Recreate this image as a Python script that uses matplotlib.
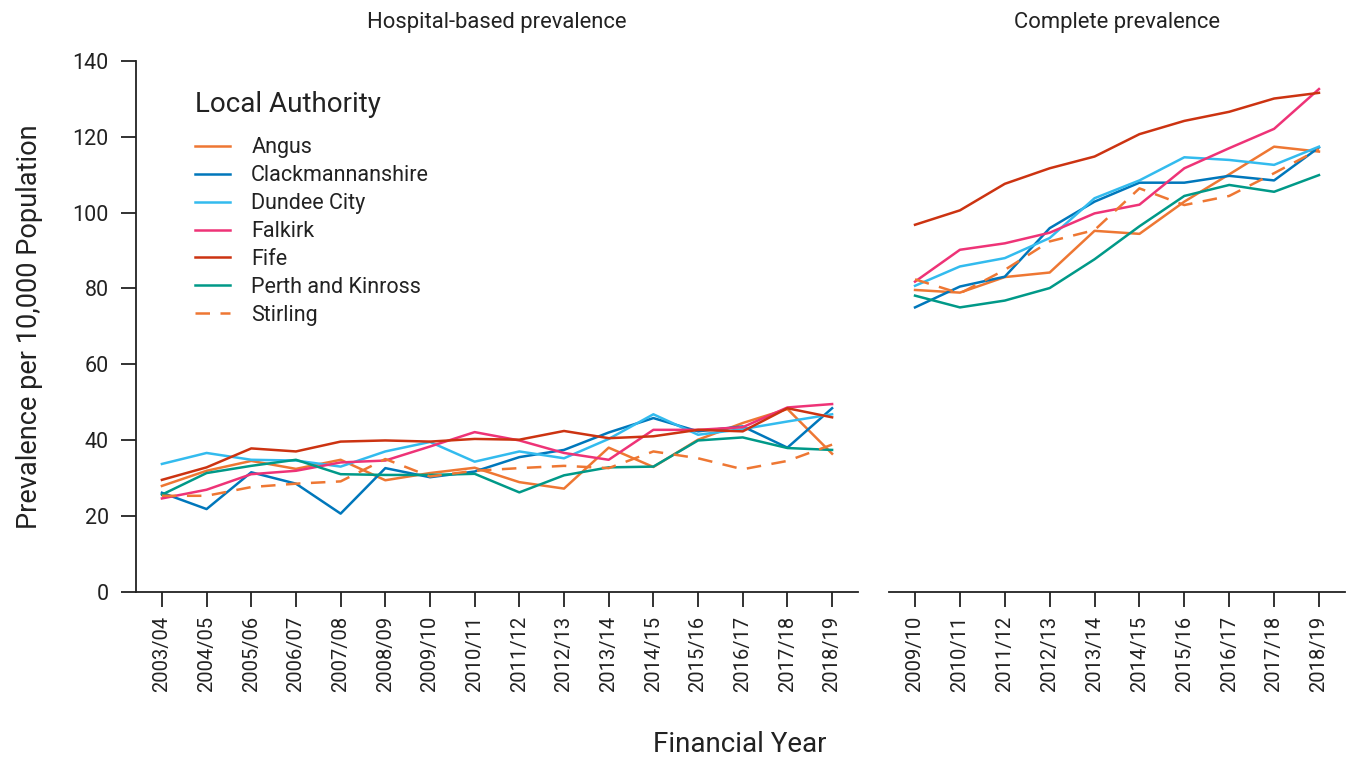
import numpy as np
import matplotlib
matplotlib.use("Agg")
import matplotlib.pyplot as plt

plt.rcParams['font.family'] = ['Roboto', 'DejaVu Sans']

# financial years for the two panels
years_hosp = ["2003/04", "2004/05", "2005/06", "2006/07", "2007/08", "2008/09",
              "2009/10", "2010/11", "2011/12", "2012/13", "2013/14", "2014/15",
              "2015/16", "2016/17", "2017/18", "2018/19"]
years_comp = ["2009/10", "2010/11", "2011/12", "2012/13", "2013/14", "2014/15",
              "2015/16", "2016/17", "2017/18", "2018/19"]

# hospital-based prevalence per 10,000
angus_h = [27.9, 31.9, 34.5, 32.4, 34.8, 29.4, 31.3, 32.7, 28.9, 27.2, 38.0, 32.9, 40.1, 44.5, 48.2, 36.4]
clack_h = [26.1, 21.8, 31.5, 28.5, 20.6, 32.6, 30.2, 31.7, 35.5, 37.4, 42.0, 45.8, 42.3, 43.6, 38.0, 48.4]
dundee_h = [33.7, 36.6, 34.8, 34.6, 33.0, 37.0, 39.5, 34.3, 37.0, 35.2, 40.3, 46.8, 41.4, 42.9, 44.9, 46.8]
falkirk_h = [24.6, 26.9, 31.0, 31.9, 34.1, 34.6, 38.3, 42.1, 39.9, 36.6, 34.8, 42.7, 42.7, 43.4, 48.6, 49.5]
fife_h = [29.5, 32.8, 37.8, 37.0, 39.6, 39.9, 39.6, 40.3, 40.1, 42.4, 40.5, 41.0, 42.7, 42.3, 48.4, 46.0]
perth_h = [25.6, 31.3, 33.2, 34.8, 31.0, 30.8, 30.8, 31.1, 26.2, 30.7, 32.8, 33.0, 39.9, 40.7, 37.9, 37.4]
stirling_h = [25.3, 25.3, 27.6, 28.5, 29.1, 35.0, 30.4, 31.9, 32.6, 33.2, 32.6, 37.0, 35.2, 32.3, 34.5, 38.8]

# complete prevalence per 10,000
angus_c = [79.6, 78.9, 83.0, 84.2, 95.2, 94.4, 102.9, 110.1, 117.4, 116.1]
clack_c = [75.0, 80.5, 83.1, 95.9, 102.9, 107.9, 107.9, 109.7, 108.5, 117.2]
dundee_c = [80.7, 85.8, 88.0, 93.3, 103.8, 108.5, 114.6, 113.9, 112.6, 117.4]
falkirk_c = [81.8, 90.2, 91.9, 94.7, 99.8, 102.1, 111.7, 117.0, 122.1, 132.6]
fife_c = [96.8, 100.6, 107.6, 111.7, 114.8, 120.7, 124.2, 126.6, 130.1, 131.6]
perth_c = [78.1, 75.0, 76.8, 80.1, 87.7, 96.4, 104.4, 107.3, 105.5, 109.9]
stirling_c = [82.4, 78.7, 84.9, 92.4, 95.4, 106.4, 102.0, 104.4, 110.4, 116.7]

names = ["Angus", "Clackmannanshire", "Dundee City", "Falkirk", "Fife",
         "Perth and Kinross", "Stirling"]
hosp = [angus_h, clack_h, dundee_h, falkirk_h, fife_h, perth_h, stirling_h]
comp = [angus_c, clack_c, dundee_c, falkirk_c, fife_c, perth_c, stirling_c]
colors = ["#EE7733", "#0077BB", "#33BBEE", "#EE3377", "#CC3311", "#009988", "#EE7733"]
styles = ["-", "-", "-", "-", "-", "-", "--"]

W, H = 1351, 762
fig = plt.figure(figsize=(W / 100, H / 100), dpi=100)
ax1 = fig.add_axes([136 / W, 170.3 / H, 722 / W, 530.7 / H])
ax2 = fig.add_axes([889 / W, 170.3 / H, 456 / W, 530.7 / H], sharey=ax1)

txt = "#222222"
spine_col = "#222222"
for ax, yrs, data in [(ax1, years_hosp, hosp), (ax2, years_comp, comp)]:
    x = np.arange(len(yrs))
    for name, vals, c, ls in zip(names, data, colors, styles):
        line, = ax.plot(x, vals, color=c, lw=1.8, ls=ls, label=name)
        if ls == "--":
            line.set_dashes((5.8, 4.2))
    ax.set_xticks(x)
    ax.set_xticklabels(yrs, rotation=90, fontsize=14.5, color=txt)
    ax.set_xlim(-0.58, len(yrs) - 1 + 0.58)
    for s in ["top", "right"]:
        ax.spines[s].set_visible(False)
    ax.spines["bottom"].set_color(spine_col)
    ax.spines["bottom"].set_linewidth(1.3)
    ax.tick_params(axis="x", length=10.5, width=1.3, color=spine_col, pad=7)

ax1.set_ylim(0, 140)
ax1.set_yticks(np.arange(0, 141, 20))
ax1.tick_params(axis="y", length=10.5, width=1.3, color=spine_col, pad=9,
                labelsize=15.5, labelcolor=txt)
ax1.spines["left"].set_color(spine_col)
ax1.spines["left"].set_linewidth(1.3)
ax2.spines["left"].set_visible(False)
ax2.tick_params(axis="y", left=False, labelleft=False)

ax1.set_title("Hospital-based prevalence", fontsize=15.8, color=txt, pad=24)
ax2.set_title("Complete prevalence", fontsize=15.8, color=txt, pad=24)

fig.text(30 / W, 1 - 327 / H, "Prevalence per 10,000 Population", rotation=90,
         ha="center", va="center", fontsize=19.5, color=txt)
fig.text(740 / W, 1 - 745 / H, "Financial Year", ha="center", va="center",
         fontsize=20, color=txt)

handles, labels = ax1.get_legend_handles_labels()
leg = ax1.legend(handles, labels, title="Local Authority", loc="upper left",
                 bbox_to_anchor=(195 / W, 1 - 91 / H), bbox_transform=fig.transFigure,
                 frameon=False, fontsize=15.5, title_fontsize=20, alignment="left",
                 handlelength=1.63, handletextpad=0.98, labelspacing=0.32,
                 borderaxespad=0, borderpad=0)
leg._legend_box.sep = 14
for t in leg.get_texts():
    t.set_color(txt)
leg.get_title().set_color(txt)

fig.savefig("out.png", dpi=100)
